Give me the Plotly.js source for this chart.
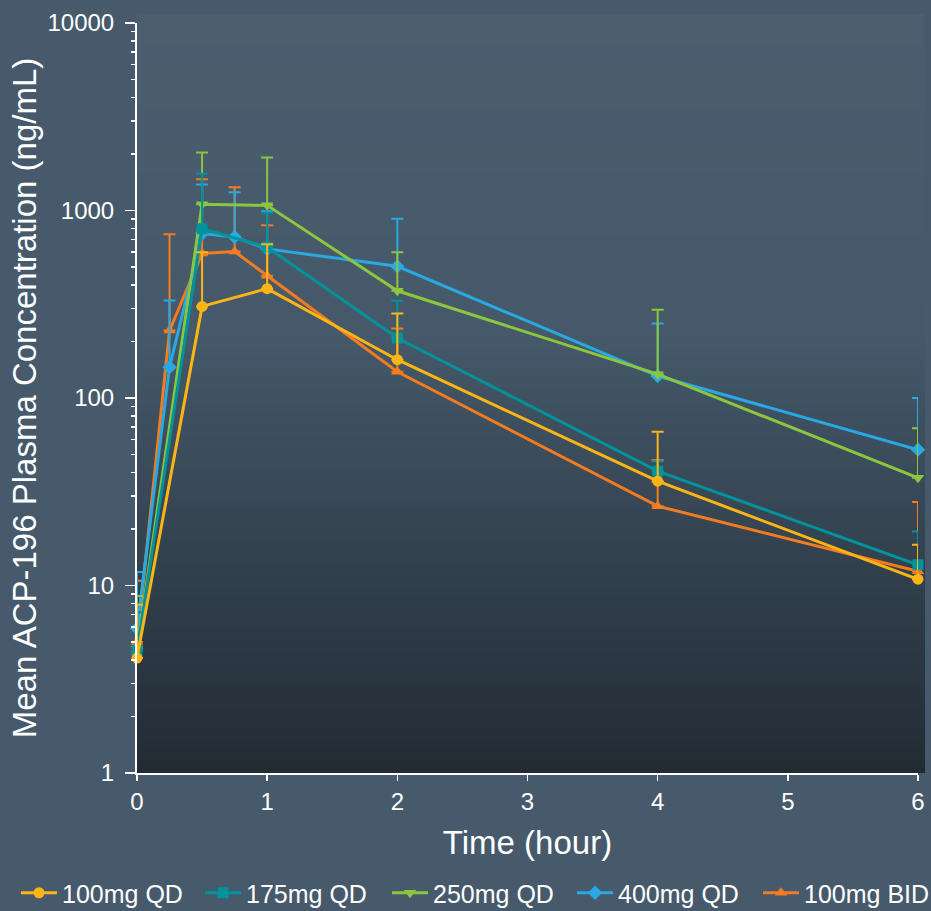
<!DOCTYPE html>
<html>
<head>
<meta charset="utf-8">
<script src="https://cdn.plot.ly/plotly-3.0.1.min.js"></script>
<style>
  html, body { margin: 0; padding: 0; background: #465a6c; }
  #chart { width: 931px; height: 911px; }
</style>
</head>
<body>
<div id="chart"></div>
<script>
// ---- Data ----
const seriesNames = ["100mg QD", "175mg QD", "250mg QD", "400mg QD", "100mg BID"];

const time100QD = [0, 0.5, 1, 2, 4, 6];
const mean100QD = [4.1, 308, 383, 160, 36, 10.8];
const upper100QD = [7.9, 598, 660, 282, 66, 16.5];

const time175QD = [0, 0.5, 1, 2, 4, 6];
const mean175QD = [4.5, 800, 637, 209, 40.7, 12.9];
const upper175QD = [7.2, 1570, 972, 330, 46, 19.4];

const time250QD = [0, 0.5, 1, 2, 4, 6];
const mean250QD = [4.6, 1080, 1065, 373, 134, 37.5];
const upper250QD = [8.8, 2040, 1916, 598, 296, 69];

const time400QD = [0, 0.25, 0.5, 0.75, 1, 2, 4, 6];
const mean400QD = [5.9, 146, 753, 722, 624, 504, 131, 53];
const upper400QD = [11.8, 331, 1376, 1253, 990, 903, 250, 100];

const time100BID = [0, 0.25, 0.5, 0.75, 1, 2, 4, 6];
const mean100BID = [5.0, 229, 590, 604, 449, 138, 26.5, 11.9];
const upper100BID = [10.6, 747, 1467, 1331, 835, 235, 46.6, 27.9];

const yTickVals = [1, 10, 100, 1000, 10000];
const yTickText = ["1", "10", "100", "1000", "10000"];
const xTickVals = [0, 1, 2, 3, 4, 5, 6];

// ---- Styles ----
const colors = ["#fdb515", "#00939b", "#8cc63f", "#29a9e1", "#f47b20"];
const symbols = ["circle", "square", "triangle-down", "diamond", "triangle-up"];
const legendIds = ["legend", "legend2", "legend3", "legend4", "legend5"];
const legendLeftPx = [16, 200, 387, 572, 758];

const seriesData = [
  [time100QD, mean100QD, upper100QD],
  [time175QD, mean175QD, upper175QD],
  [time250QD, mean250QD, upper250QD],
  [time400QD, mean400QD, upper400QD],
  [time100BID, mean100BID, upper100BID]
];

const traces = seriesData.map((d, k) => ({
  type: "scatter",
  mode: "lines+markers",
  name: seriesNames[k],
  legend: legendIds[k],
  x: d[0],
  y: d[1],
  cliponaxis: false,
  line: { color: colors[k], width: 3 },
  marker: { color: colors[k], symbol: symbols[k], size: 11 },
  error_y: {
    type: "data",
    symmetric: false,
    array: d[2].map((u, i) => u - d[1][i]),
    arrayminus: d[1].map(() => 0),
    color: colors[k],
    thickness: 2,
    width: 6
  }
})).reverse();

// minor tick positions (2..9 per decade)
const minorVals = [];
for (let e = 0; e < 4; e++) for (let m = 2; m <= 9; m++) minorVals.push(m * Math.pow(10, e));

// vertical gradient for plot background
function hexToRgb(c){ return [parseInt(c.slice(1,3),16), parseInt(c.slice(3,5),16), parseInt(c.slice(5,7),16)]; }
const gradStops = [[0, hexToRgb("#4b5e6e")], [0.42, hexToRgb("#45596a")], [1, hexToRgb("#222b34")]];
function colAt(t){
  for (let i = 0; i < gradStops.length - 1; i++) {
    if (t >= gradStops[i][0] && t <= gradStops[i+1][0]) {
      const f = (t - gradStops[i][0]) / (gradStops[i+1][0] - gradStops[i][0]);
      const a = gradStops[i][1], b = gradStops[i+1][1];
      return "rgb(" + a.map((v, j) => Math.round(v + (b[j] - v) * f)).join(",") + ")";
    }
  }
  return "rgb(" + gradStops[gradStops.length-1][1].join(",") + ")";
}
const bgShapes = [];
const NSTRIPES = 120, gradTop = 1.012, gradRight = 1.009;
for (let i = 0; i < NSTRIPES; i++) {
  const y1 = gradTop - gradTop * i / NSTRIPES;
  const y0 = gradTop - gradTop * (i + 1) / NSTRIPES;
  bgShapes.push({
    type: "rect", xref: "paper", yref: "paper", layer: "below",
    x0: 0, x1: gradRight, y0: Math.max(0, y0 - 0.002), y1: y1,
    fillcolor: colAt((i + 0.5) / NSTRIPES), line: { width: 0 }
  });
}

const fontFam = "'Liberation Sans', Arial, sans-serif";

const layout = {
  width: 931,
  height: 911,
  margin: { l: 137, r: 13, t: 23, b: 138, pad: 0 },
  paper_bgcolor: "#465a6c",
  plot_bgcolor: "rgba(0,0,0,0)",
  font: { family: fontFam, color: "#ffffff", size: 24 },
  showlegend: true,
  shapes: bgShapes,
  xaxis: {
    range: [0, 6],
    tickmode: "array",
    tickvals: xTickVals,
    ticks: "outside",
    ticklen: 6,
    tickwidth: 1.5,
    tickcolor: "#ffffff",
    showline: true,
    linecolor: "#ffffff",
    linewidth: 2,
    showgrid: false,
    zeroline: false,
    tickfont: { family: fontFam, size: 24, color: "#ffffff" },
    title: { text: "Time (hour)", font: { family: fontFam, size: 33, color: "#ffffff" }, standoff: 17 }
  },
  yaxis: {
    type: "log",
    range: [0, 4],
    tickmode: "array",
    tickvals: yTickVals,
    ticktext: yTickText,
    ticks: "outside",
    ticklen: 10,
    tickwidth: 1.5,
    tickcolor: "#ffffff",
    showline: true,
    linecolor: "#ffffff",
    linewidth: 2,
    showgrid: false,
    zeroline: false,
    ticklabelstandoff: 6,
    minor: { tickmode: "array", tickvals: minorVals, ticks: "outside", ticklen: 4, tickwidth: 1.5, tickcolor: "#ffffff", showgrid: false },
    tickfont: { family: fontFam, size: 24, color: "#ffffff" },
    title: { text: "Mean ACP-196 Plasma Concentration (ng/mL)", font: { family: fontFam, size: 33, color: "#ffffff" }, standoff: 1 }
  }
};

legendIds.forEach((id, k) => {
  layout[id] = {
    orientation: "h",
    xref: "container",
    yref: "container",
    x: legendLeftPx[k] / 931,
    y: 18 / 911,
    xanchor: "left",
    yanchor: "middle",
    font: { family: fontFam, size: 25, color: "#ffffff" },
    bgcolor: "rgba(0,0,0,0)",
    itemwidth: 36
  };
});

Plotly.newPlot("chart", traces, layout, { displayModeBar: false, staticPlot: true });
</script>
</body>
</html>
